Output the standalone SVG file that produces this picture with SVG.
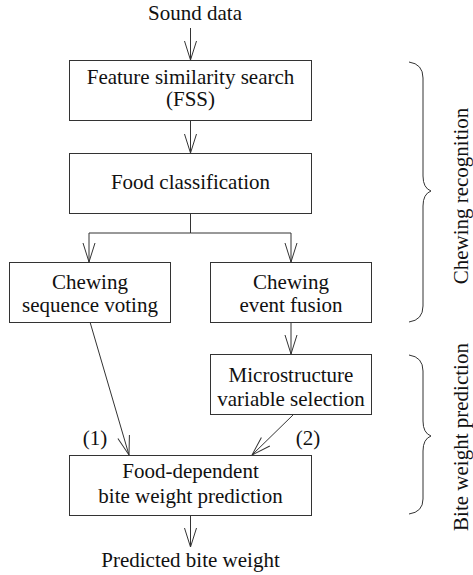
<svg xmlns="http://www.w3.org/2000/svg" width="473" height="575" viewBox="0 0 473 575">
<style>
text{font-family:'Liberation Serif','Times New Roman',serif;font-size:21px;fill:#111;text-anchor:middle}
.box{fill:#fff;stroke:#333;stroke-width:1}
.edge{fill:none;stroke:#333;stroke-width:1}
.brace{fill:none;stroke:#333;stroke-width:1}
</style>
<defs>
<marker id="arr" markerUnits="userSpaceOnUse" markerWidth="24" markerHeight="16" viewBox="-20 -8 22 16" refX="0" refY="0" orient="auto">
<path d="M-19,-6 L0,0 L-19,6" fill="none" stroke="#333" stroke-width="1"/>
</marker>
</defs>
<rect width="473" height="575" fill="#fff"/>
<g id="connectors">
<line class="edge" x1="190.5" y1="28" x2="190.5" y2="60" marker-end="url(#arr)"/>
<line class="edge" x1="190.5" y1="121" x2="190.5" y2="153" marker-end="url(#arr)"/>
<polyline class="edge" points="190.5,213 190.5,233 89,233 89,262" marker-end="url(#arr)"/>
<polyline class="edge" points="190.5,233 291,233 291,262" marker-end="url(#arr)"/>
<line class="edge" x1="291" y1="322" x2="291" y2="354" marker-end="url(#arr)"/>
<line class="edge" x1="90" y1="322" x2="129" y2="455" marker-end="url(#arr)"/>
<line class="edge" x1="294" y1="414" x2="252" y2="455" marker-end="url(#arr)"/>
<line class="edge" x1="190.5" y1="516" x2="190.5" y2="547" marker-end="url(#arr)"/>
</g>
<g id="sound"><text x="195" y="20">Sound data</text></g>
<g id="fss">
<rect class="box" x="69.5" y="60.5" width="242" height="60"/>
<text x="190.5" y="84">Feature similarity search</text>
<text x="190.5" y="106">(FSS)</text>
</g>
<g id="classification">
<rect class="box" x="69.5" y="153.5" width="242" height="60"/>
<text x="190.5" y="189">Food classification</text>
</g>
<g id="voting">
<rect class="box" x="9.5" y="262.5" width="161" height="60"/>
<text x="90" y="289">Chewing</text>
<text x="90" y="312">sequence voting</text>
</g>
<g id="fusion">
<rect class="box" x="210.5" y="262.5" width="161" height="60"/>
<text x="291" y="289">Chewing</text>
<text x="291" y="312">event fusion</text>
</g>
<g id="micro">
<rect class="box" x="210.5" y="354.5" width="161" height="60"/>
<text x="291" y="382">Microstructure</text>
<text x="291" y="406">variable selection</text>
</g>
<g id="prediction">
<rect class="box" x="69.5" y="455.5" width="242" height="60"/>
<text x="190.5" y="478">Food-dependent</text>
<text x="190.5" y="503">bite weight prediction</text>
</g>
<g id="labels">
<text x="95" y="445">(1)</text>
<text x="308" y="445">(2)</text>
</g>
<g id="output"><text x="190.5" y="567">Predicted bite weight</text></g>
<g id="brace-chewing">
<path class="brace" d="M409,62 Q423,64 423,78 L423,176 Q423,188 431,191 Q423,194 423,206 L423,306 Q423,320 409,322"/>
<text transform="translate(468,196) rotate(-90)">Chewing recognition</text>
</g>
<g id="brace-bite">
<path class="brace" d="M409,355 Q423,357 423,371 L423,421 Q423,433 431,436 Q423,439 423,451 L423,499 Q423,512 409,514"/>
<text transform="translate(468,437) rotate(-90)">Bite weight prediction</text>
</g>
</svg>
